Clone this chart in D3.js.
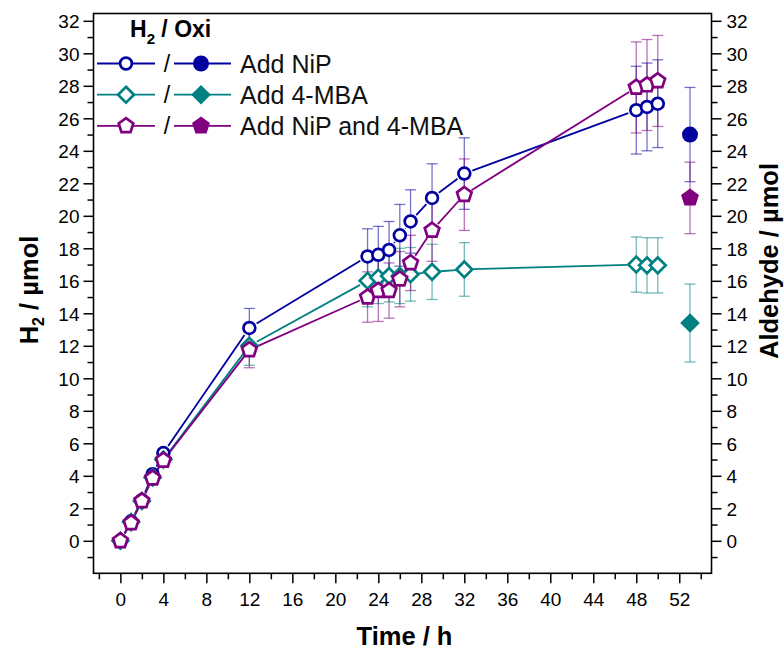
<!DOCTYPE html>
<html>
<head>
<meta charset="utf-8">
<script src="https://cdn.jsdelivr.net/npm/d3@7"></script>
<style>
  body { margin: 0; background: #fff; }
  text { font-family: "Liberation Sans", Arial, sans-serif; }
</style>
</head>
<body>
<svg id="chart" width="784" height="649"></svg>
<script>
// Sampling times (h) for the H2 series
const timeH2 = [0, 1, 2, 3, 4, 12, 23, 24, 25, 26, 27, 29, 32, 48, 49, 50];

// H2 evolved (µmol) and standard deviations
const h2NiP     = [0, 1.2, 2.5, 4.1, 5.4, 13.1, 17.5, 17.6, 17.9, 18.8, 19.65, 21.1, 22.6, 26.5, 26.7, 26.9];
const h2NiPErr  = [0, 0, 0, 0, 0, 1.2, 1.7, 1.75, 1.75, 1.9, 1.95, 2.1, 2.2, 2.7, 2.7, 2.7];
const h2MBA     = [0, 1.15, 2.45, 3.9, 5.0, 12.0, 16.0, 16.2, 16.3, 16.3, 16.4, 16.55, 16.7, 17.0, 16.95, 16.95];
const h2MBAErr  = [0, 0, 0, 0, 0, 1.2, 1.6, 1.6, 1.6, 1.7, 1.65, 1.7, 1.65, 1.7, 1.7, 1.7];
const h2Both    = [0, 1.1, 2.45, 3.85, 4.95, 11.75, 15.0, 15.4, 15.4, 16.1, 17.1, 19.1, 21.3, 27.9, 28.05, 28.3];
const h2BothErr = [0, 0, 0, 0, 0, 1.1, 1.55, 1.9, 1.7, 1.7, 1.7, 1.9, 2.2, 2.8, 2.8, 2.8];

// Aldehyde (oxidation product) measured at the end of the run
const timeOxi = 53;
const oxiValues = [25.0, 13.4, 21.1];
const oxiErr    = [2.9, 2.4, 2.2];

const seriesNames  = ["Add NiP", "Add 4-MBA", "Add NiP and 4-MBA"];
const seriesColors = ["#0000a0", "#008080", "#800080"];
const seriesShapes = ["circle", "diamond", "pentagon"];

const xTickValues = d3.range(0, 53, 4);
const xMinorValues = d3.range(-2, 55, 2).filter(v => v % 4 !== 0);
const yTickValues = d3.range(0, 33, 2);
const yMinorValues = d3.range(-1, 32, 2);

const h2Series = [
  { values: h2NiP, err: h2NiPErr },
  { values: h2MBA, err: h2MBAErr },
  { values: h2Both, err: h2BothErr }
];

const svg = d3.select("#chart");
const plot = { left: 93.5, right: 711.5, top: 13.5, bottom: 573.3 };

const x = d3.scaleLinear().domain([-2.5, 55]).range([plot.left, plot.right]);
const y = d3.scaleLinear().domain([-2, 32.45]).range([plot.bottom, plot.top]);

// ---- marker shapes ----
function shapePath(shape, r) {
  if (shape === "circle") {
    const p = d3.path();
    p.arc(0, 0, r, 0, 2 * Math.PI);
    p.closePath();
    return p.toString();
  }
  if (shape === "diamond") {
    return `M0,${-r}L${r},0L0,${r}L${-r},0Z`;
  }
  // pentagon, point up
  const pts = d3.range(5).map(i => {
    const a = -Math.PI / 2 + i * 2 * Math.PI / 5;
    return [r * Math.cos(a), r * Math.sin(a)];
  });
  return "M" + pts.map(p => p.join(",")).join("L") + "Z";
}
const hollowR = { circle: 5.9, diamond: 7.9, pentagon: 7.7 };
const filledR = { circle: 8, diamond: 9.8, pentagon: 9.4 };

function drawMarker(g, shape, cx, cy, color, filled) {
  g.append("path")
    .attr("d", shapePath(shape, filled ? filledR[shape] : hollowR[shape]))
    .attr("transform", `translate(${cx},${cy})`)
    .attr("fill", filled ? color : "#fff")
    .attr("stroke", color)
    .attr("stroke-width", filled ? 0 : 2.7)
    .attr("stroke-linejoin", "miter");
}

// line joining points, leaving a small gap around each marker
function drawGappedLine(g, pts, color, gap) {
  for (let i = 0; i < pts.length - 1; i++) {
    const [x1, y1] = pts[i], [x2, y2] = pts[i + 1];
    const dx = x2 - x1, dy = y2 - y1, d = Math.hypot(dx, dy);
    if (d <= 2 * gap) continue;
    const ux = dx / d, uy = dy / d;
    g.append("line")
      .attr("x1", x1 + ux * gap).attr("y1", y1 + uy * gap)
      .attr("x2", x2 - ux * gap).attr("y2", y2 - uy * gap)
      .attr("stroke", color).attr("stroke-width", 1.8);
  }
}

function drawErrorBar(g, cx, v, e, color) {
  if (!e) return;
  const top = y(v + e), bot = y(v - e), cap = 5.5;
  const eg = g.append("g").attr("stroke", color).attr("stroke-opacity", 0.55).attr("stroke-width", 1.3);
  eg.append("line").attr("x1", cx).attr("x2", cx).attr("y1", top).attr("y2", bot);
  eg.append("line").attr("x1", cx - cap).attr("x2", cx + cap).attr("y1", top).attr("y2", top);
  eg.append("line").attr("x1", cx - cap).attr("x2", cx + cap).attr("y1", bot).attr("y2", bot);
}

// ---- axes ----
const tickFont = 19;
function styleAxis(g) {
  g.selectAll("path.domain").remove();
  g.selectAll("line").attr("stroke", "#000").attr("stroke-width", 1.5);
  g.selectAll("text").attr("font-size", tickFont).attr("fill", "#000")
    .style("font-family", '"Liberation Sans", Arial, sans-serif');
}

const xAxis = svg.append("g").attr("transform", `translate(0,${plot.bottom})`)
  .call(d3.axisBottom(x).tickValues(xTickValues).tickSize(10).tickPadding(9));
styleAxis(xAxis);
const xMinor = svg.append("g").attr("transform", `translate(0,${plot.bottom})`)
  .call(d3.axisBottom(x).tickValues(xMinorValues).tickSize(6).tickFormat(""));
styleAxis(xMinor);

const yLeft = svg.append("g").attr("transform", `translate(${plot.left},0)`)
  .call(d3.axisLeft(y).tickValues(yTickValues).tickSize(10).tickPadding(4));
styleAxis(yLeft);
yLeft.selectAll("text").attr("dy", "0.36em");
const yLeftMinor = svg.append("g").attr("transform", `translate(${plot.left},0)`)
  .call(d3.axisLeft(y).tickValues(yMinorValues).tickSize(6).tickFormat(""));
styleAxis(yLeftMinor);

const yRight = svg.append("g").attr("transform", `translate(${plot.right},0)`)
  .call(d3.axisRight(y).tickValues(yTickValues).tickSize(10).tickPadding(5));
styleAxis(yRight);
yRight.selectAll("text").attr("dy", "0.36em");
const yRightMinor = svg.append("g").attr("transform", `translate(${plot.right},0)`)
  .call(d3.axisRight(y).tickValues(yMinorValues).tickSize(6).tickFormat(""));
styleAxis(yRightMinor);

svg.append("rect")
  .attr("x", plot.left).attr("y", plot.top)
  .attr("width", plot.right - plot.left).attr("height", plot.bottom - plot.top)
  .attr("fill", "none").attr("stroke", "#000").attr("stroke-width", 1.6);

// axis titles
const titleFont = 25.5;
svg.append("text").attr("x", (plot.left + plot.right) / 2 + 2).attr("y", 645)
  .attr("text-anchor", "middle").attr("font-size", titleFont).attr("font-weight", "bold")
  .text("Time / h");

const yTitle = svg.append("text")
  .attr("transform", "translate(38,290) rotate(-90)")
  .attr("text-anchor", "middle").attr("font-size", titleFont).attr("font-weight", "bold");
yTitle.append("tspan").text("H");
yTitle.append("tspan").attr("font-size", 16).attr("dy", 6).text("2");
yTitle.append("tspan").attr("dy", -6).text(" / µmol");

svg.append("text")
  .attr("transform", "translate(778,261) rotate(-90)")
  .attr("text-anchor", "middle").attr("font-size", titleFont).attr("font-weight", "bold")
  .text("Aldehyde / µmol");

// ---- data ----
const dataG = svg.append("g");
const errG = dataG.append("g");
const lineG = dataG.append("g");
const markG = dataG.append("g");

h2Series.forEach((s, k) => {
  const color = seriesColors[k];
  timeH2.forEach((t, i) => drawErrorBar(errG, x(t), s.values[i], s.err[i], color));
  drawErrorBar(errG, x(timeOxi), oxiValues[k], oxiErr[k], color);
  const pts = timeH2.map((t, i) => [x(t), y(s.values[i])]);
  drawGappedLine(lineG, pts, color, 8.5);
});
h2Series.forEach((s, k) => {
  const color = seriesColors[k];
  timeH2.forEach((t, i) => drawMarker(markG, seriesShapes[k], x(t), y(s.values[i]), color, false));
  drawMarker(markG, seriesShapes[k], x(timeOxi), y(oxiValues[k]), color, true);
});

// ---- legend ----
const leg = svg.append("g");
const legTitle = leg.append("text").attr("x", 130).attr("y", 37)
  .attr("font-size", 23).attr("font-weight", "bold");
legTitle.append("tspan").text("H");
legTitle.append("tspan").attr("font-size", 15).attr("dy", 7).text("2");
legTitle.append("tspan").attr("dy", -7).text(" / Oxi");

seriesNames.forEach((name, k) => {
  const ly = 63.5 + k * 31.2;
  const color = seriesColors[k];
  leg.append("line").attr("x1", 97).attr("x2", 155).attr("y1", ly).attr("y2", ly)
    .attr("stroke", color).attr("stroke-width", 1.8);
  drawMarker(leg, seriesShapes[k], 126, ly, color, false);
  leg.append("text").attr("x", 167).attr("y", ly + 8).attr("text-anchor", "middle")
    .attr("font-size", 23).text("/");
  leg.append("line").attr("x1", 174).attr("x2", 231).attr("y1", ly).attr("y2", ly)
    .attr("stroke", color).attr("stroke-width", 1.8);
  drawMarker(leg, seriesShapes[k], 201, ly, color, true);
  leg.append("text").attr("x", 240).attr("y", ly + 9)
    .attr("font-size", 25).attr("fill", "#111").text(name);
});
</script>
</body>
</html>
